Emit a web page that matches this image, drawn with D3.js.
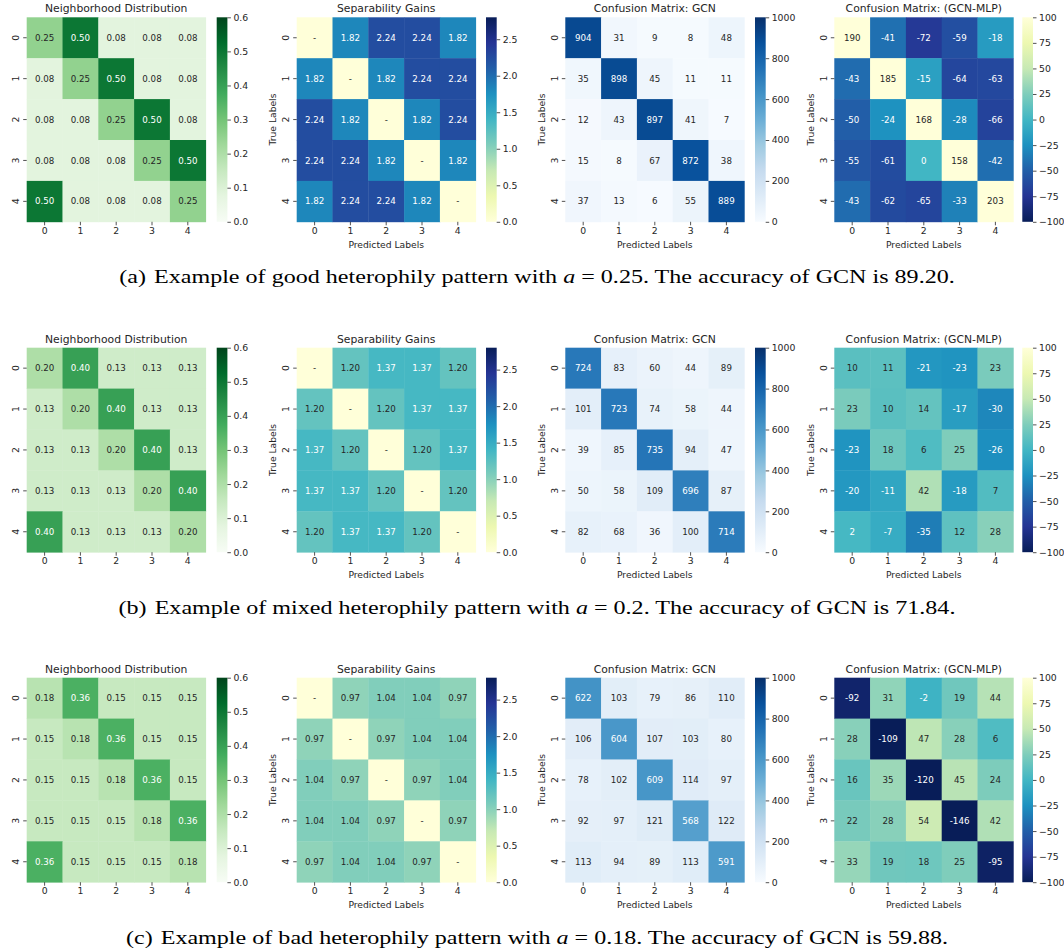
<!DOCTYPE html>
<html><head><meta charset="utf-8">
<script src="https://cdn.jsdelivr.net/npm/d3@7"></script>
<style>
body{margin:0;background:#fff}
svg{display:block}
.sans{font-family:"DejaVu Sans",sans-serif}
.cap{font-family:"Liberation Serif","Times New Roman",serif}
</style>
</head><body>
<svg id="chart" width="1064" height="950"></svg>
<script>
// ---------- data ----------
const classLabels = ["0","1","2","3","4"];

// Row (a)
const ndA = [[0.25,0.50,0.08,0.08,0.08],[0.08,0.25,0.50,0.08,0.08],[0.08,0.08,0.25,0.50,0.08],[0.08,0.08,0.08,0.25,0.50],[0.50,0.08,0.08,0.08,0.25]];
const sgA = [[0,1.82,2.24,2.24,1.82],[1.82,0,1.82,2.24,2.24],[2.24,1.82,0,1.82,2.24],[2.24,2.24,1.82,0,1.82],[1.82,2.24,2.24,1.82,0]];
const cmA = [[904,31,9,8,48],[35,898,45,11,11],[12,43,897,41,7],[15,8,67,872,38],[37,13,6,55,889]];
const dfA = [[190,-41,-72,-59,-18],[-43,185,-15,-64,-63],[-50,-24,168,-28,-66],[-55,-61,0,158,-42],[-43,-62,-65,-33,203]];

// Row (b)
const ndB = [[0.20,0.40,0.13,0.13,0.13],[0.13,0.20,0.40,0.13,0.13],[0.13,0.13,0.20,0.40,0.13],[0.13,0.13,0.13,0.20,0.40],[0.40,0.13,0.13,0.13,0.20]];
const sgB = [[0,1.20,1.37,1.37,1.20],[1.20,0,1.20,1.37,1.37],[1.37,1.20,0,1.20,1.37],[1.37,1.37,1.20,0,1.20],[1.20,1.37,1.37,1.20,0]];
const cmB = [[724,83,60,44,89],[101,723,74,58,44],[39,85,735,94,47],[50,58,109,696,87],[82,68,36,100,714]];
const dfB = [[10,11,-21,-23,23],[23,10,14,-17,-30],[-23,18,6,25,-26],[-20,-11,42,-18,7],[2,-7,-35,12,28]];

// Row (c)
const ndC = [[0.18,0.36,0.15,0.15,0.15],[0.15,0.18,0.36,0.15,0.15],[0.15,0.15,0.18,0.36,0.15],[0.15,0.15,0.15,0.18,0.36],[0.36,0.15,0.15,0.15,0.18]];
const sgC = [[0,0.97,1.04,1.04,0.97],[0.97,0,0.97,1.04,1.04],[1.04,0.97,0,0.97,1.04],[1.04,1.04,0.97,0,0.97],[0.97,1.04,1.04,0.97,0]];
const cmC = [[622,103,79,86,110],[106,604,107,103,80],[78,102,609,114,97],[92,97,121,568,122],[113,94,89,113,591]];
const dfC = [[-92,31,-2,19,44],[28,-109,47,28,6],[16,35,-120,45,24],[22,28,54,-146,42],[33,19,18,25,-95]];

const titles = ["Neighborhood Distribution","Separability Gains","Confusion Matrix: GCN","Confusion Matrix: (GCN-MLP)"];
const ndTicks = [0,0.1,0.2,0.3,0.4,0.5,0.6];
const sgTicks = [0,0.5,1.0,1.5,2.0,2.5];
const cmTicks = [0,200,400,600,800,1000];
const dfTicks = [-100,-75,-50,-25,0,25,50,75,100];

const captionLetters = ["(a)","(b)","(c)"];
const captionKinds = ["good","mixed","bad"];
const captionA = ["0.25","0.2","0.18"];
const captionAcc = ["89.20","71.84","59.88"];

// ---------- layout ----------
const W = 179, H = 204.5;
const colX = [26.7, 296.7, 565.3, 834.3];
const cbX = [216.7, 486, 755, 1022.3];
const cbW = 10.7;
const rowY = [17.3, 347.7, 677.7];
const capY = [283, 614, 944];
const ink = "#262626";

const schemes = {
  Greens: d3.schemeGreens[9],
  Blues: d3.schemeBlues[9],
  YlGnBu: d3.schemeYlGnBu[9],
  YlGnBu_r: d3.schemeYlGnBu[9].slice().reverse()
};
function cmap(name, vmin, vmax){
  const cols = schemes[name];
  const dom = cols.map((c,i)=> vmin + (vmax-vmin)*i/(cols.length-1));
  return d3.scaleLinear().domain(dom).range(cols).interpolate(d3.interpolateRgb).clamp(true);
}
function lum(c){
  const r = d3.rgb(c);
  const f = v => { v/=255; return v<=0.03928 ? v/12.92 : Math.pow((v+0.055)/1.055,2.4); };
  return 0.2126*f(r.r)+0.7152*f(r.g)+0.0722*f(r.b);
}
const minus = s => String(s).replace("-","\u2212");

const svg = d3.select("#chart");
const defs = svg.append("defs");
let gid = 0;

function heatmap(rowIdx, colIdx, spec){
  const x0 = colX[colIdx], y0 = rowY[rowIdx];
  const g = svg.append("g").attr("class","sans");
  const x = d3.scaleBand().domain(classLabels).range([x0, x0+W]);
  const y = d3.scaleBand().domain(classLabels).range([y0, y0+H]);
  const color = cmap(spec.scheme, spec.vmin, spec.vmax);

  const cells = [];
  spec.data.forEach((row,i)=>row.forEach((v,j)=>cells.push({i,j,v})));
  g.selectAll("rect.cell").data(cells).enter().append("rect")
    .attr("x", d=>x(classLabels[d.j])).attr("y", d=>y(classLabels[d.i]))
    .attr("width", x.bandwidth()+0.4).attr("height", y.bandwidth()+0.4)
    .attr("fill", d=>color(d.v));
  g.selectAll("text.ann").data(cells).enter().append("text")
    .attr("x", d=>x(classLabels[d.j])+x.bandwidth()/2)
    .attr("y", d=>y(classLabels[d.i])+y.bandwidth()/2)
    .attr("dy","0.36em").attr("text-anchor","middle")
    .attr("font-size", 8.7)
    .attr("fill", d=> lum(color(d.v))>0.408 ? ink : "#ffffff")
    .text(d=>spec.fmt(d.v,d.i,d.j));

  // title
  g.append("text").attr("x", x0+W/2).attr("y", y0-5).attr("text-anchor","middle")
    .attr("font-size", 10.8).attr("fill", ink).text(titles[colIdx]);

  // axes
  const ax = g.append("g").attr("transform",`translate(0,${y0+H})`)
    .call(d3.axisBottom(x).tickSize(3.5).tickPadding(2.2));
  const ay = g.append("g").attr("transform",`translate(${x0},0)`)
    .call(d3.axisLeft(y).tickSize(3.5));
  [ax, ay].forEach(a=>{
    a.select(".domain").remove();
    a.selectAll("line").attr("stroke", ink).attr("stroke-width",0.8);
    a.selectAll("text").attr("font-size",9.3).attr("fill",ink).attr("font-family","DejaVu Sans");
  });
  ay.selectAll("text").attr("x",0).attr("dy",0).attr("text-anchor","middle")
    .attr("transform","translate(-7.3,0) rotate(-90)");

  if (spec.axisLabels){
    g.append("text").attr("x", x0+W/2).attr("y", y0+H+26).attr("text-anchor","middle")
      .attr("font-size",9.2).attr("fill",ink).text("Predicted Labels");
    g.append("text").attr("transform",`translate(${x0-20.5},${y0+H/2}) rotate(-90)`)
      .attr("text-anchor","middle").attr("font-size",9.2).attr("fill",ink).text("True Labels");
  }

  // colorbar
  const id = "grad"+(gid++);
  const lg = defs.append("linearGradient").attr("id",id).attr("x1",0).attr("y1",1).attr("x2",0).attr("y2",0);
  const cols = schemes[spec.scheme];
  cols.forEach((c,k)=> lg.append("stop").attr("offset", k/(cols.length-1)).attr("stop-color", c));
  const cx = cbX[colIdx];
  g.append("rect").attr("x",cx).attr("y",y0).attr("width",cbW).attr("height",H).attr("fill",`url(#${id})`);
  const cs = d3.scaleLinear().domain([spec.vmin, spec.vmax]).range([y0+H, y0]);
  const ac = g.append("g").attr("transform",`translate(${cx+cbW},0)`)
    .call(d3.axisRight(cs).tickValues(spec.ticks).tickSize(3.5).tickPadding(2.5).tickFormat(spec.tfmt));
  ac.select(".domain").remove();
  ac.selectAll("line").attr("stroke", ink).attr("stroke-width",0.8);
  ac.selectAll("text").attr("font-size",9.3).attr("fill",ink).attr("font-family","DejaVu Sans");
}

const rows = [[ndA,sgA,cmA,dfA],[ndB,sgB,cmB,dfB],[ndC,sgC,cmC,dfC]];
rows.forEach((r,ri)=>{
  heatmap(ri,0,{data:r[0],scheme:"Greens",vmin:0,vmax:0.6,ticks:ndTicks,
    fmt:v=>v.toFixed(2), tfmt:d3.format(".1f"), axisLabels:false});
  heatmap(ri,1,{data:r[1],scheme:"YlGnBu",vmin:0,vmax:2.8,ticks:sgTicks,
    fmt:(v,i,j)=> i===j ? "-" : v.toFixed(2), tfmt:d3.format(".1f"), axisLabels:true});
  heatmap(ri,2,{data:r[2],scheme:"Blues",vmin:0,vmax:1000,ticks:cmTicks,
    fmt:v=>String(v), tfmt:d=>String(d), axisLabels:true});
  heatmap(ri,3,{data:r[3],scheme:"YlGnBu_r",vmin:-100,vmax:100,ticks:dfTicks,
    fmt:v=>String(v), tfmt:d=>minus(d), axisLabels:true});

  const t = svg.append("text").attr("class","cap")
    .attr("transform",`translate(537,${capY[ri]}) scale(1.235,1)`)
    .attr("text-anchor","middle").attr("font-size",19.5).attr("fill","#000");
  t.append("tspan").text(`${captionLetters[ri]}\u2004Example of ${captionKinds[ri]} heterophily pattern with `);
  t.append("tspan").attr("font-style","italic").text("a");
  t.append("tspan").text(` = ${captionA[ri]}. The accuracy of GCN is ${captionAcc[ri]}.`);
});
</script>
</body></html>
